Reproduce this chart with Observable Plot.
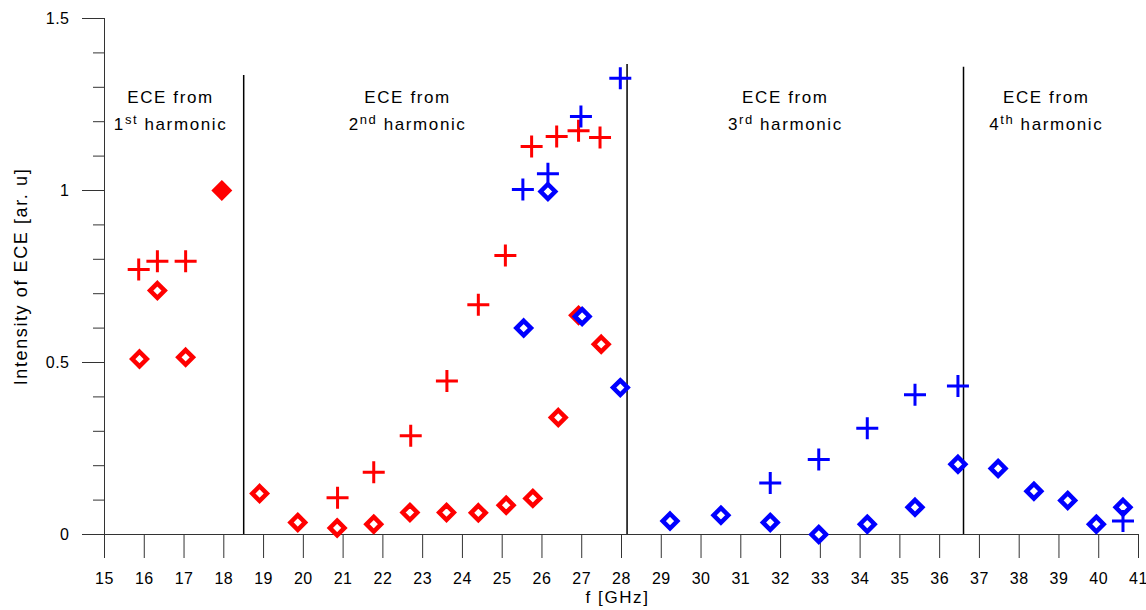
<!DOCTYPE html>
<html>
<head>
<meta charset="utf-8">
<script src="https://cdn.jsdelivr.net/npm/d3@7"></script>
<script src="https://cdn.jsdelivr.net/npm/@observablehq/plot@0.6"></script>
<style>
  html, body { margin: 0; padding: 0; background: #fff; }
  svg { font-family: "Liberation Sans", Arial, sans-serif; }
  svg text { letter-spacing: 0.5px; }
</style>
</head>
<body>
<div id="chart"></div>
<script>
// ---- data ----
const redCrossF = [15.86, 16.33, 17.04, 20.86, 21.77, 22.70, 23.61, 24.40, 25.08, 25.74, 26.37, 26.92, 27.46];
const redCrossV = [0.770, 0.794, 0.794, 0.107, 0.181, 0.287, 0.446, 0.668, 0.811, 1.128, 1.157, 1.174, 1.154];

const redDiamondF = [15.88, 16.33, 17.04, 18.90, 19.86, 20.85, 21.77, 22.68, 23.60, 24.40, 25.10, 25.77, 26.41, 26.92, 27.49];
const redDiamondV = [0.510, 0.709, 0.515, 0.119, 0.035, 0.019, 0.030, 0.064, 0.064, 0.063, 0.085, 0.105, 0.340, 0.637, 0.553];

const redFilledF = [17.95];
const redFilledV = [1.0];

const blueCrossF = [25.52, 26.15, 26.98, 27.97, 31.74, 32.96, 34.18, 35.38, 36.46, 40.61];
const blueCrossV = [1.003, 1.049, 1.215, 1.326, 0.150, 0.218, 0.309, 0.406, 0.432, 0.039];

const blueDiamondF = [25.54, 26.15, 27.01, 27.97, 29.22, 30.50, 31.74, 32.96, 34.18, 35.38, 36.46, 37.47, 38.37, 39.22, 39.94, 40.61];
const blueDiamondV = [0.600, 0.997, 0.634, 0.427, 0.039, 0.056, 0.035, 0.000, 0.030, 0.079, 0.204, 0.192, 0.126, 0.099, 0.030, 0.079];

const sepF = [18.50, 28.14, 36.60];
const sepTop = [1.334, 1.366, 1.358];

const annotF = [16.66, 22.62, 32.12, 38.68];
const annotTop = [1.311, 1.311, 1.311, 1.311];
const annotText = ["ECE from\n1st harmonic", "ECE from\n2nd harmonic", "ECE from\n3rd harmonic", "ECE from\n4th harmonic"];

const xTicks = d3.range(15, 42);
const yMajor = [0, 0.5, 1, 1.5];
const yMinor = [0.1, 0.2, 0.3, 0.4, 0.6, 0.7, 0.8, 0.9, 1.1, 1.2, 1.3, 1.4];

const xLabel = "f [GHz]";
const yLabel = "Intensity of ECE [ar. u]";

// ---- build tables ----
const zip = (F, V) => F.map((f, i) => ({f, v: V[i]}));
const redCross = zip(redCrossF, redCrossV);
const redDiamond = zip(redDiamondF, redDiamondV);
const redFilled = zip(redFilledF, redFilledV);
const blueCross = zip(blueCrossF, blueCrossV);
const blueDiamond = zip(blueDiamondF, blueDiamondV);
const seps = sepF.map((f, i) => ({f, top: sepTop[i]}));
const annots = annotF.map((f, i) => ({f, v: annotTop[i], t: annotText[i]}));

// ---- custom symbols ----
const crossSym = {
  draw(ctx, size) {
    const r = Math.sqrt(size / Math.PI);
    ctx.moveTo(-r, 0); ctx.lineTo(r, 0);
    ctx.moveTo(0, -r); ctx.lineTo(0, r);
  }
};
const diamondSym = {
  draw(ctx, size) {
    const r = Math.sqrt(size / Math.PI);
    ctx.moveTo(0, -r); ctx.lineTo(r, 0); ctx.lineTo(0, r); ctx.lineTo(-r, 0); ctx.closePath();
  }
};

const RED = "#ff0000", BLUE = "#0000ff", AX = "#333";

const chart = Plot.plot({
  width: 1146,
  height: 610,
  marginLeft: 104,
  marginRight: 8,
  marginTop: 18,
  marginBottom: 76,
  x: {domain: [15, 41]},
  y: {domain: [0, 1.5]},
  style: {background: "#fff", color: "#000", fontFamily: "Liberation Sans, Arial, sans-serif"},
  marks: [
    // axes
    Plot.axisY({ticks: yMinor, tickSize: 11, tickFormat: () => "", label: null, stroke: AX}),
    Plot.axisY({ticks: yMajor, tickSize: 22, tickPadding: 13, tickFormat: d => String(d), label: null, stroke: AX, fontSize: 16}),
    Plot.axisX({ticks: xTicks, tickSize: 24, tickPadding: 14, tickFormat: d => String(d), label: null, stroke: AX, fontSize: 16}),
    Plot.ruleX([15], {y1: 0, y2: 1.5, stroke: AX}),
    Plot.ruleY([0], {x1: 15, x2: 41, stroke: AX}),
    // separators
    Plot.ruleX(seps, {x: "f", y1: 0, y2: "top", stroke: "#000", strokeWidth: 1.5}),
    // annotations
    Plot.text(annots, {x: "f", y: "v", text: "t", lineAnchor: "top", lineHeight: 1.6, fontSize: 17, fill: "#000"}),
    // axis titles
    Plot.text([xLabel], {frameAnchor: "bottom", textAnchor: "middle", text: d => d, lineAnchor: "top", dy: 56, dx: -4, fontSize: 17, fill: "#000"}),
    Plot.text([yLabel], {frameAnchor: "left", textAnchor: "middle", text: d => d, rotate: -90, dx: -83, fontSize: 18, fill: "#000"}),
    // data
    Plot.dot(redDiamond, {x: "f", y: "v", symbol: diamondSym, r: 7.3, fill: "#fff", stroke: RED, strokeWidth: 4.5, strokeLinejoin: "miter"}),
    Plot.dot(redFilled, {x: "f", y: "v", symbol: diamondSym, r: 7.3, fill: RED, stroke: RED, strokeWidth: 4.5, strokeLinejoin: "miter"}),
    Plot.dot(redCross, {x: "f", y: "v", symbol: crossSym, r: 11, fill: "none", stroke: RED, strokeWidth: 3}),
    Plot.dot(blueDiamond, {x: "f", y: "v", symbol: diamondSym, r: 7.3, fill: "#fff", stroke: BLUE, strokeWidth: 4.5, strokeLinejoin: "miter"}),
    Plot.dot(blueCross, {x: "f", y: "v", symbol: crossSym, r: 11, fill: "none", stroke: BLUE, strokeWidth: 3})
  ]
});

// letter spacing on titles / annotations, and superscripts for ordinal suffixes
const NS = "http://www.w3.org/2000/svg";
chart.querySelectorAll("text").forEach(t => {
  const s = t.textContent;
  if (s === xLabel || s === yLabel || s.indexOf("ECE from") === 0) t.style.letterSpacing = "1.6px";
  if (s === yLabel || s === xLabel) t.setAttribute("text-anchor", "middle");
});
const suffixRe = /^(\d)(st|nd|rd|th)( harmonic)$/;
chart.querySelectorAll("tspan").forEach(el => {
  const m = suffixRe.exec(el.textContent);
  if (!m) return;
  el.textContent = "";
  el.appendChild(document.createTextNode(m[1]));
  const sup = document.createElementNS(NS, "tspan");
  sup.setAttribute("dy", "-6");
  sup.setAttribute("font-size", "13");
  sup.textContent = m[2];
  el.appendChild(sup);
  const rest = document.createElementNS(NS, "tspan");
  rest.setAttribute("dy", "6");
  rest.textContent = m[3];
  el.appendChild(rest);
});

document.getElementById("chart").appendChild(chart);
</script>
</body>
</html>
